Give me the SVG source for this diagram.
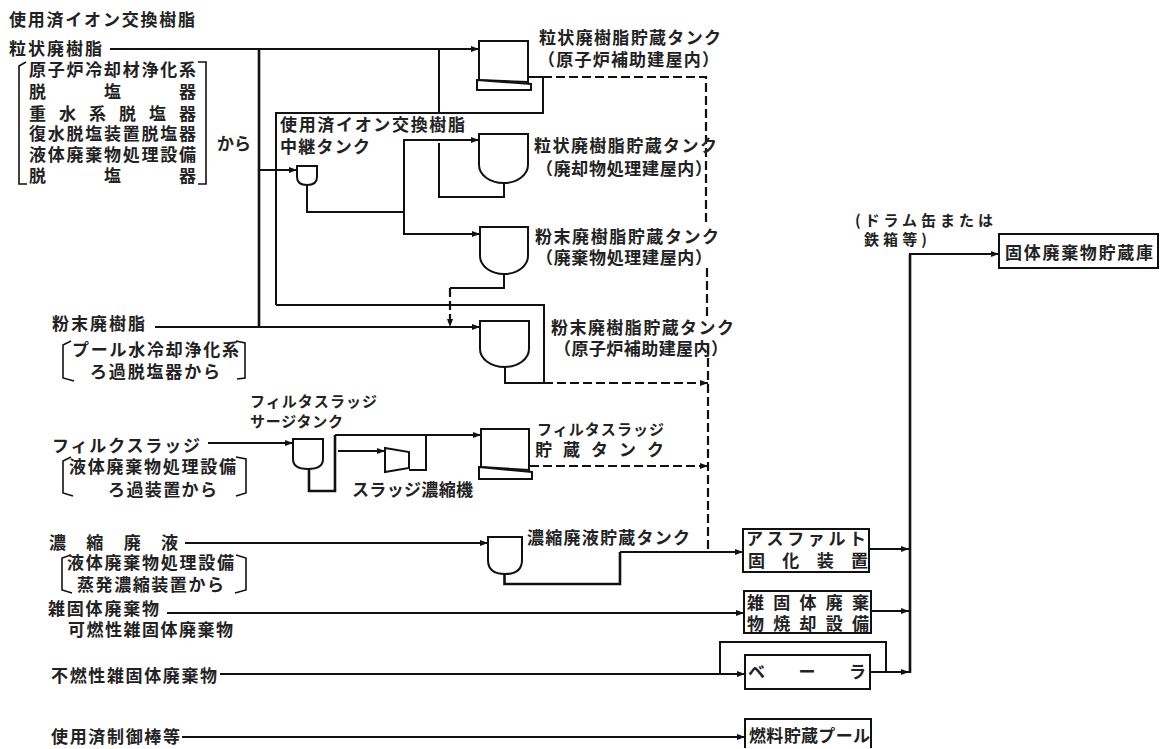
<svg xmlns="http://www.w3.org/2000/svg" width="1160" height="749" viewBox="0 0 1160 749">
<style>
text{font-family:"Noto Sans CJK JP","Noto Sans CJK SC",sans-serif;font-size:17px;font-weight:700;fill:#222}
.t{font-size:15px}
.s{fill:#fff;stroke:#111;stroke-width:2}
.b{fill:none;stroke:#111;stroke-width:1.6}
.l{fill:none;stroke:#111;stroke-width:2}
.h{fill:none;stroke:#111;stroke-width:2.6}
.d{fill:none;stroke:#111;stroke-width:2.2;stroke-dasharray:9 4}
.a{marker-end:url(#ar)}
</style>
<defs>
<marker id="ar" markerUnits="userSpaceOnUse" markerWidth="9" markerHeight="8" refX="8" refY="4" orient="auto"><path d="M0,1 L8,4 L0,7 Z" fill="#111"/></marker>
</defs>
<rect width="1160" height="749" fill="#fff"/>

<g id="connectors">
<path class="l a" d="M110,49 H479"/>
<path class="h" d="M259,49 V327"/>
<path class="l a" d="M155,327 H480"/>
<path class="l" d="M276,305 V113 H543 V77 H528"/>
<path class="l" d="M276,305 H544 V383 H505 V367"/>
<path class="l" d="M439,49 V113 M439,143 V197 H504 V183"/>
<path class="l a" d="M259,170 H297"/>
<path class="l" d="M307,185 V212 H404"/>
<path class="l a" d="M404,212 V140 H479"/>
<path class="l a" d="M404,212 V234 H480"/>
<path class="l" d="M504,274 V288 H450"/>
<path class="d a" d="M450,288 V327"/>
<path class="d" d="M543,77 H706 V226 M707,268 V320 M708,345 V552"/>
<path class="d a" d="M544,383 H708"/>
<path class="d a" d="M530,466 H708"/>
<path class="l a" d="M208,443 H293"/>
<path class="h" d="M309,469 V491 H335 V435"/>
<path class="l a" d="M335,435 H481"/>
<path class="l a" d="M338,451 H385"/>
<path class="l" d="M409,470 H426 V435"/>
<path class="l a" d="M185,543 H488"/>
<path class="h" d="M504.5,574 V584 H620 V552"/>
<path class="l a" d="M620,552 H743"/>
<path class="l a" d="M167,613 H744"/>
<path class="l a" d="M220,674 H745"/>
<path class="l" d="M720,674 V642 H886 V672"/>
<path class="l a" d="M182,737 H745"/>
<path class="l a" d="M870,549 H909"/>
<path class="l a" d="M871,611 H909"/>
<path class="l a" d="M870,672 H909"/>
<path class="h" d="M910,673 V254"/>
<path class="l a" d="M909,254 H999"/>
</g>

<g id="src-resin-title"><text x="9" y="26" textLength="186">使用済イオン交換樹脂</text></g>
<g id="src-granular">
<text x="9" y="55" textLength="93">粒状廃樹脂</text>
<path class="b" d="M26,62 L19,66 V184 H27 M198,62 H206 V184 H198"/>
<text x="29" y="76" textLength="167">原子炉冷却材浄化系</text>
<text x="29" y="98" textLength="167">脱　　塩　　器</text>
<text x="29" y="120" textLength="167">重水系脱塩器</text>
<text x="29" y="140" textLength="167">復水脱塩装置脱塩器</text>
<text x="29" y="161" textLength="167">液体廃棄物処理設備</text>
<text x="29" y="182" textLength="167">脱　　塩　　器</text>
<text x="217" y="150" textLength="34">から</text>
</g>
<g id="relay-tank">
<text x="280" y="131" textLength="185">使用済イオン交換樹脂</text>
<text x="280" y="153" textLength="90">中継タンク</text>
<path class="s" d="M297,166 H317 V177 Q317,185 307,185 Q297,185 297,177 Z"/>
</g>
<g id="tank-1">
<path class="s" d="M479,41 H528 V82 L479,80 Z"/>
<path class="s" d="M477,80 L531,84 V90 H477 Z"/>
<text x="539" y="44" textLength="182">粒状廃樹脂貯蔵タンク</text>
<text x="538" y="66" textLength="181">（原子炉補助建屋内）</text>
</g>
<g id="tank-2">
<path class="s" d="M479,134 H528 V165 A24.5,18 0 0 1 479,165 Z"/>
<text x="534" y="152" textLength="183">粒状廃樹脂貯蔵タンク</text>
<text x="536" y="175" textLength="176">（廃却物処理建屋内）</text>
</g>
<g id="tank-3">
<path class="s" d="M480,227 H528 V256 A24,18 0 0 1 480,256 Z"/>
<text x="535" y="243" textLength="184">粉末廃樹脂貯蔵タンク</text>
<text x="536" y="264" textLength="176">（廃棄物処理建屋内）</text>
</g>
<g id="tank-4">
<path class="s" d="M480,321 H529 V349 A24.5,18 0 0 1 480,349 Z"/>
<text x="551" y="334" textLength="183">粉末廃樹脂貯蔵タンク</text>
<text x="554" y="355" textLength="174">（原子炉補助建屋内）</text>
</g>
<g id="src-powder">
<text x="52" y="330" textLength="93">粉末廃樹脂</text>
<path class="b" d="M71,341 L63,345 V378 L74,381 M236,341 L245,343 V378 L237,379"/>
<text x="72" y="356" textLength="167">プール水冷却浄化系</text>
<text x="90" y="378" textLength="130">ろ過脱塩器から</text>
</g>
<g id="surge-tank">
<text class="t" x="250" y="407" textLength="127">フィルタスラッジ</text>
<text class="t" x="250" y="427" textLength="93">サージタンク</text>
<path class="s" d="M293,439 H323 V459 Q323,469 308,469 Q293,469 293,459 Z"/>
</g>
<g id="src-filter">
<text x="52" y="452" textLength="148">フィルクスラッジ</text>
<path class="b" d="M71,457 L63,461 V493 L73,496 M236,457 L246,459 V493 L236,496"/>
<text x="69" y="473" textLength="167">液体廃棄物処理設備</text>
<text x="108" y="496" textLength="109">ろ過装置から</text>
</g>
<g id="thickener">
<path class="s" d="M385,448 L409,452 V468 L385,472 Z"/>
<text x="352" y="496" textLength="121">スラッジ濃縮機</text>
</g>
<g id="tank-5">
<path class="s" d="M481,429 H529 V470 L481,467 Z"/>
<path class="s" d="M479,467 L532,472 V479 H479 Z"/>
<text class="t" x="537" y="435" textLength="127">フィルタスラッジ</text>
<text x="535" y="456" textLength="129">貯蔵タンク</text>
</g>
<g id="src-concentrate">
<text x="49" y="549" textLength="129">濃縮廃液</text>
<path class="b" d="M71,555 L62,558 V590 L72,593 M236,555 L246,558 V590 L235,593"/>
<text x="67" y="569" textLength="167">液体廃棄物処理設備</text>
<text x="77" y="591" textLength="147">蒸発濃縮装置から</text>
</g>
<g id="tank-6">
<path class="s" d="M488,537 H522 V560 Q522,574 505,574 Q488,574 488,560 Z"/>
<text x="527" y="544" textLength="163">濃縮廃液貯蔵タンク</text>
</g>
<g id="src-misc">
<text x="48" y="615" textLength="111">雑固体廃棄物</text>
<text x="68" y="636" textLength="165">可燃性雑固体廃棄物</text>
</g>
<g id="src-noncomb"><text x="51" y="682" textLength="166">不燃性雑固体廃棄物</text></g>
<g id="src-rods"><text x="51" y="743" textLength="129">使用済制御棒等</text></g>
<g id="asphalt">
<rect class="s" x="743" y="529" width="126" height="43"/>
<text x="746" y="545" textLength="120">アスファルト</text>
<text x="748" y="567" textLength="120">固化装置</text>
</g>
<g id="incinerator">
<rect class="s" x="744" y="591" width="127" height="42"/>
<text x="747" y="609" textLength="122">雑固体廃棄</text>
<text x="747" y="630" textLength="122">物焼却設備</text>
</g>
<g id="baler">
<rect class="s" x="745" y="655" width="125" height="34"/>
<text x="748" y="678" textLength="118">ベーラ</text>
</g>
<g id="fuel-pool">
<path class="s" d="M745,748 V719 H871 V748"/>
<text x="749" y="742" textLength="121">燃料貯蔵プール</text>
</g>
<g id="solid-store">
<text class="t" x="855" y="226" textLength="138">(ドラム缶または</text>
<text class="t" x="864" y="245" textLength="63">鉄箱等)</text>
<rect class="s" x="999" y="234" width="159" height="34"/>
<text x="1005" y="259" textLength="148">固体廃棄物貯蔵庫</text>
</g>
</svg>
